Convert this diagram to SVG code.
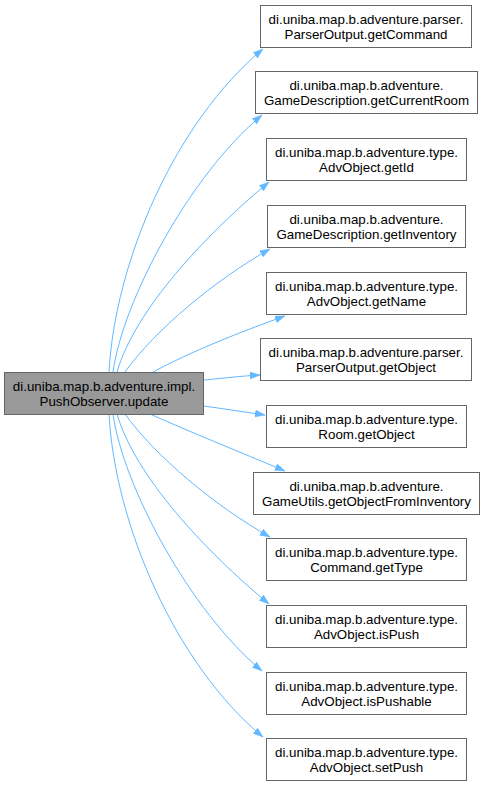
<svg xmlns="http://www.w3.org/2000/svg" width="485" height="787" viewBox="0 0 485 787">
<defs>
<style>
.node rect{fill:#ffffff;stroke:#666666;stroke-width:1}
#main rect{fill:#999999;stroke:#666666}
text{font-family:"Liberation Sans",Arial,sans-serif;font-size:13.33px;fill:#000000;text-anchor:middle}
.edge{fill:none;stroke:#63b8ff;stroke-width:1;marker-end:url(#arr)}
</style>
<marker id="arr" markerUnits="userSpaceOnUse" markerWidth="11" markerHeight="8" refX="10" refY="3.5" orient="auto">
<path d="M0,0 L10,3.5 L0,7 Z" fill="#63b8ff" stroke="#63b8ff" stroke-width="0.5"/>
</marker>
</defs>
<rect width="485" height="787" fill="#ffffff"/>
<g id="connectors">
<path class="edge" d="M109,372 C115,262 175,122 263,49"/>
<path class="edge" d="M113,372 C123,300 190,175 262,115"/>
<path class="edge" d="M117,372 C135,310 205,235 269,182"/>
<path class="edge" d="M125,372 C155,330 215,280 270,249"/>
<path class="edge" d="M153,372 C190,352 240,332 285,316"/>
<path class="edge" d="M204,380 C225,378 242,376 260,375"/>
<path class="edge" d="M204,406 C225,409 245,412 265,415"/>
<path class="edge" d="M150,414 C190,432 240,452 285,471"/>
<path class="edge" d="M125,414 C155,456 215,506 270,537"/>
<path class="edge" d="M117,414 C135,476 205,551 269,604"/>
<path class="edge" d="M113,414 C123,486 190,611 262,671"/>
<path class="edge" d="M109,414 C115,524 175,664 263,737"/>
</g>
<g id="main" class="node">
<rect x="4.5" y="372.5" width="199" height="42"/>
<text x="104" y="390.5">di.uniba.map.b.adventure.impl.</text>
<text x="104" y="405.5">PushObserver.update</text>
</g>
<g id="n1" class="node">
<rect x="260.5" y="5.5" width="211" height="42"/>
<text x="366" y="24">di.uniba.map.b.adventure.parser.</text>
<text x="366" y="39">ParserOutput.getCommand</text>
</g>
<g id="n2" class="node">
<rect x="255.5" y="71.5" width="222" height="42"/>
<text x="366.5" y="90">di.uniba.map.b.adventure.</text>
<text x="366.5" y="105">GameDescription.getCurrentRoom</text>
</g>
<g id="n3" class="node">
<rect x="266.5" y="138.5" width="200" height="42"/>
<text x="366.5" y="157">di.uniba.map.b.adventure.type.</text>
<text x="366.5" y="172">AdvObject.getId</text>
</g>
<g id="n4" class="node">
<rect x="267.5" y="205.5" width="198" height="42"/>
<text x="366.5" y="224">di.uniba.map.b.adventure.</text>
<text x="366.5" y="239">GameDescription.getInventory</text>
</g>
<g id="n5" class="node">
<rect x="266.5" y="272.5" width="200" height="42"/>
<text x="366.5" y="291">di.uniba.map.b.adventure.type.</text>
<text x="366.5" y="306">AdvObject.getName</text>
</g>
<g id="n6" class="node">
<rect x="260.5" y="338.5" width="211" height="42"/>
<text x="366" y="357">di.uniba.map.b.adventure.parser.</text>
<text x="366" y="372">ParserOutput.getObject</text>
</g>
<g id="n7" class="node">
<rect x="266.5" y="405.5" width="200" height="42"/>
<text x="366.5" y="424">di.uniba.map.b.adventure.type.</text>
<text x="366.5" y="439">Room.getObject</text>
</g>
<g id="n8" class="node">
<rect x="253.5" y="472.5" width="226" height="42"/>
<text x="366.5" y="491">di.uniba.map.b.adventure.</text>
<text x="366.5" y="506">GameUtils.getObjectFromInventory</text>
</g>
<g id="n9" class="node">
<rect x="266.5" y="538.5" width="200" height="42"/>
<text x="366.5" y="557">di.uniba.map.b.adventure.type.</text>
<text x="366.5" y="572">Command.getType</text>
</g>
<g id="n10" class="node">
<rect x="266.5" y="605.5" width="200" height="42"/>
<text x="366.5" y="624">di.uniba.map.b.adventure.type.</text>
<text x="366.5" y="639">AdvObject.isPush</text>
</g>
<g id="n11" class="node">
<rect x="266.5" y="672.5" width="200" height="42"/>
<text x="366.5" y="691">di.uniba.map.b.adventure.type.</text>
<text x="366.5" y="706">AdvObject.isPushable</text>
</g>
<g id="n12" class="node">
<rect x="266.5" y="738.5" width="200" height="42"/>
<text x="366.5" y="757">di.uniba.map.b.adventure.type.</text>
<text x="366.5" y="772">AdvObject.setPush</text>
</g>
</svg>
